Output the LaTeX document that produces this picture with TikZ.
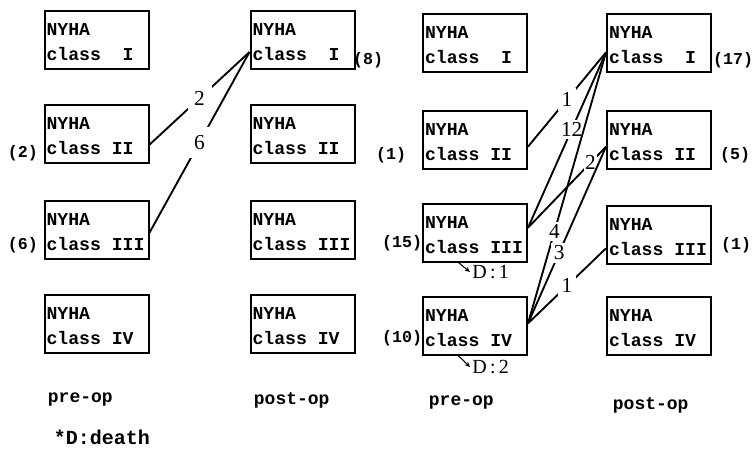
\documentclass[tikz,border=0pt]{standalone}
\usepackage{fontspec}
\setmainfont{Liberation Serif}
\setmonofont{Liberation Mono}
\usetikzlibrary{arrows.meta}

\begin{document}
\begin{tikzpicture}[x=0.75pt,y=-0.75pt,line width=1.4pt,>=Stealth]
\tikzset{
  cls/.style={draw,line width=1.5pt,minimum width=78pt,minimum height=43pt,
    text width=75pt,inner sep=1.5pt,align=left,
    font=\ttfamily\bfseries\fontsize{13.6}{18.5}\selectfont},
  cnt/.style={inner sep=0pt,font=\ttfamily\bfseries\fontsize{12.5}{14}\selectfont},
  num/.style={fill=white,inner sep=3pt,font=\fontsize{16}{18}\selectfont},
  death/.style={anchor=west,inner sep=1pt,font=\fontsize{15}{17}\selectfont},
  dto/.style={line width=0.8pt,-{Stealth[length=4pt,width=3.5pt]}},
  head/.style={anchor=west,inner sep=0pt,
    font=\ttfamily\bfseries\fontsize{13.5}{16}\selectfont}}
\useasboundingbox (0,0) rectangle (755,455);
% one typewriter blank
\newcommand{\blank}{\hspace*{0.6em}}
% class box: name, x, y, class number
\newcommand{\nyha}[4]{\node[cls] (#1) at (#2,#3)
  {\rule{0pt}{12.5pt}NYHA\\class\blank#4};}
% ---------- left: pre-op ----------
\nyha{a1}{96.5}{40}{\blank I}
\nyha{a2}{96.5}{134}{II}
\nyha{a3}{96.5}{230}{III}
\nyha{a4}{96.5}{324}{IV}
% ---------- left: post-op ----------
\nyha{b1}{302.5}{40}{\blank I}
\nyha{b2}{302.5}{134}{II}
\nyha{b3}{302.5}{230}{III}
\nyha{b4}{302.5}{324}{IV}
% ---------- right: pre-op ----------
\nyha{c1}{475}{43}{\blank I}
\nyha{c2}{475}{140}{II}
\nyha{c3}{475}{233}{III}
\nyha{c4}{475}{326}{IV}
% ---------- right: post-op ----------
\nyha{d1}{659}{43}{\blank I}
\nyha{d2}{659}{140}{II}
\nyha{d3}{659}{235}{III}
\nyha{d4}{659}{326}{IV}
% patient counts
\node[cnt] (na2) at (23,153) {(2)};
\node[cnt] (na3) at (23,245) {(6)};
\node[cnt] (nb1) at (368,60) {(8)};
\node[cnt] (nc2) at (391,155) {(1)};
\node[cnt] (nc3) at (402,243) {(15)};
\node[cnt] (nc4) at (402,338) {(10)};
\node[cnt] (nd1) at (733,60) {(17)};
\node[cnt] (nd2) at (735,155) {(5)};
\node[cnt] (nd3) at (736,245) {(1)};
% transitions (left)
\draw ([yshift=-8pt]a2.east) -- node[num,inner sep=5pt] {2} ([yshift=-9pt]b1.west);
\draw ([yshift=-2pt]a3.east) -- node[num,inner sep=6pt] {6} ([yshift=-9pt]b1.west);
% transitions (right)
\draw ([yshift=-5pt]c2.east) -- node[num] {1} ([yshift=-7pt]d1.west);
\draw ([yshift=4pt]c3.east) -- node[num,pos=0.56,inner sep=2pt] {12} ([yshift=-7pt]d1.west);
\draw ([yshift=4pt]c3.east) -- node[num,pos=0.8,inner sep=1pt] {2} ([yshift=-5pt]d2.west);
\draw ([yshift=2pt]c4.east) -- node[num,pos=0.34,inner sep=2pt] {4} ([yshift=-7pt]d1.west);
\draw ([yshift=2pt]c4.east) -- node[num,pos=0.4,inner sep=2pt] {3} ([yshift=-5pt]d2.west);
\draw ([yshift=2pt]c4.east) -- node[num] {1} ([yshift=-10pt]d3.west);
% deaths
\node[death] (dc3) at (470,272) {D\,:\,1};
\node[death] (dc4) at (470,367) {D\,:\,2};
\draw[dto] ([xshift=-13.5pt,yshift=1pt]c3.south) -- (dc3.west);
\draw[dto] ([xshift=-13.5pt,yshift=1pt]c4.south) -- (dc4.west);
% column headings
\node[head] (h1) at (47,400) {pre-op};
\node[head] (h2) at (253,400) {post-op};
\node[head] (h3) at (428,403) {pre-op};
\node[head] (h4) at (612,405) {post-op};
\node[head,font=\ttfamily\bfseries\fontsize{15}{17}\selectfont] (key) at (53,437) {*D:death};
\end{tikzpicture}
\end{document}
